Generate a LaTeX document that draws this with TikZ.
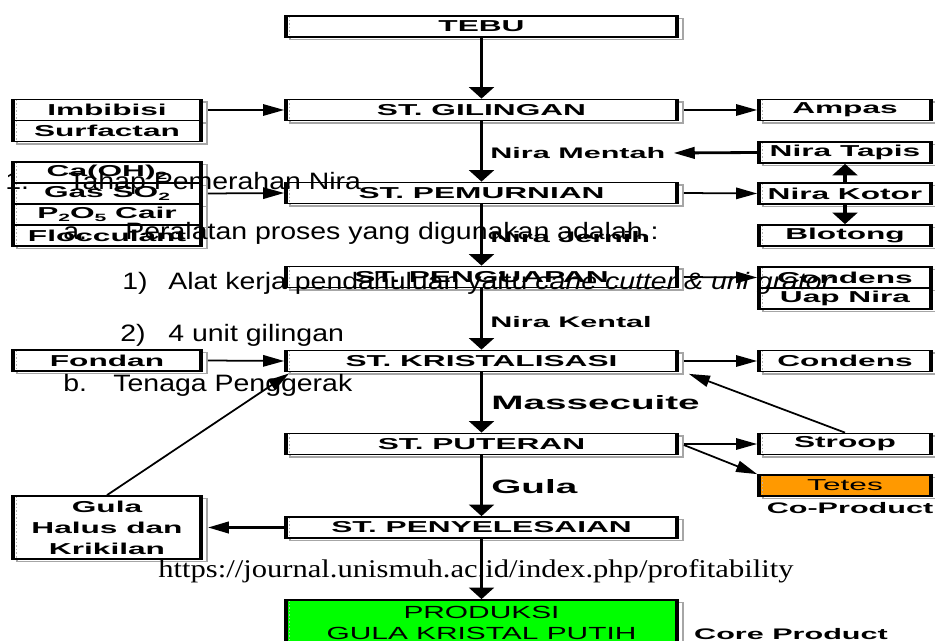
\documentclass[tikz,border=0pt]{standalone}
\usepackage{fontspec}
\usetikzlibrary{arrows.meta,shadows}
\newfontfamily\boxfont[FakeStretch=2.0]{Liberation Sans}
\newfontfamily\prodfont[FakeStretch=1.7]{Liberation Sans}
\newfontfamily\docfont[FakeStretch=1.2]{Liberation Sans}
\newfontfamily\urlfont[FakeStretch=1.2]{Liberation Serif}
\definecolor{prodgreen}{RGB}{0,255,0}
\definecolor{tetesorange}{RGB}{255,153,0}
\newcommand{\lowtxt}[1]{\raisebox{-.4ex}{\fontsize{6}{6}\selectfont #1}}

\tikzset{
  stbox/.style={draw, line width=1pt, fill=white, inner sep=0pt, minimum height=0.42cm,
    font=\boxfont\bfseries\fontsize{9}{10}\selectfont,
    general shadow={shadow xshift=2.8pt, shadow yshift=-1.4pt, draw=gray!70, line width=0.8pt, fill=none},
    path picture={
      \draw[line width=3.5pt] (path picture bounding box.north west) to (path picture bounding box.south west);
      \draw[line width=3.5pt] (path picture bounding box.north east) to (path picture bounding box.south east);
      \draw[gray!60, line width=1pt, densely dotted] ([xshift=2.6pt]path picture bounding box.north west) to ([xshift=2.6pt]path picture bounding box.south west);
    }},
  mainbox/.style={stbox, minimum width=7.86cm},
  leftbox/.style={stbox, minimum width=3.8cm},
  rightbox/.style={stbox, minimum width=3.48cm},
  lbl/.style={font=\boxfont\bfseries\fontsize{8.7}{10}\selectfont, inner sep=0pt, anchor=west},
  biglbl/.style={font=\boxfont\bfseries\fontsize{11}{13}\selectfont, inner sep=0pt, anchor=west},
  doc/.style={font=\docfont\fontsize{13.5}{16}\selectfont, inner sep=0pt, anchor=base west},
  mainarrow/.style={line width=2pt, -{Triangle[length=6.5pt, width=14pt]}},
  sidearrow/.style={line width=1pt, -{Triangle[length=12pt, width=6.5pt]}}
}

\begin{document}
\begin{tikzpicture}[x=0.02cm, y=-0.02cm]
        \fill[white] (0, 0) rectangle (935, 641);
        \clip (0, 0) rectangle (935, 641);

        %%stations
        \node[mainbox] (tebu) at (481.5, 26.5) {TEBU};
        \node[mainbox] (gil) at (481.5, 110) {ST. GILINGAN};
        \node[mainbox] (pem) at (481.5, 193) {ST. PEMURNIAN};
        \node[mainbox] (peng) at (481.5, 277) {ST. PENGUAPAN};
        \node[mainbox] (kris) at (481.5, 361) {ST. KRISTALISASI};
        \node[mainbox] (put) at (481.5, 444) {ST. PUTERAN};
        \node[mainbox] (peny) at (481.5, 527.5) {ST. PENYELESAIAN};
        \node[mainbox, fill=prodgreen, minimum height=0.9cm, align=center,
          font=\prodfont\fontsize{10}{12}\selectfont] (prod) at (481.5, 622.5) {PRODUKSI\\GULA KRISTAL PUTIH};

        %%inputs
        \node[leftbox] (imb) at (107, 110) {Imbibisi};
        \node[leftbox] (surf) at (107, 131) {Surfactan};
        \node[leftbox] (caoh) at (107, 172.5) {Ca(OH)\lowtxt{2}};
        \node[leftbox] (gas) at (107, 193.5) {Gas SO\lowtxt{2}};
        \node[leftbox] (pdua) at (107, 214.5) {P\lowtxt{2}O\lowtxt{5} Cair};
        \node[leftbox] (floc) at (107, 235.5) {Flocculant};
        \node[leftbox] (fondan) at (107, 360.5) {Fondan};
        \node[leftbox, minimum height=1.26cm, align=center,
          font=\boxfont\bfseries\fontsize{9}{12}\selectfont] (gulah) at (107, 527.5) {Gula\\Halus dan\\Krikilan};

        %%outputs
        \node[rightbox] (ampas) at (845, 110) {Ampas};
        \node[rightbox] (tapis) at (845, 152.5) {Nira Tapis};
        \node[rightbox] (kotor) at (845, 193.5) {Nira Kotor};
        \node[rightbox] (blotong) at (845, 235.5) {Blotong};
        \node[rightbox] (conda) at (845, 277.5) {Condens};
        \node[rightbox] (uap) at (845, 298.5) {Uap Nira};
        \node[rightbox] (condb) at (845, 361) {Condens};
        \node[rightbox] (stroop) at (845, 444) {Stroop};
        \node[rightbox, fill=tetesorange, font=\boxfont\fontsize{9}{10}\selectfont] (tetes) at (845, 485.5) {Tetes};

        %%flow labels
        \node[lbl] (mentah) at (490, 153) {Nira Mentah};
        \node[lbl] (jernih) at (490, 237) {Nira Jernih};
        \node[lbl] (kental) at (490, 322) {Nira Kental};
        \node[biglbl] (masse) at (491, 403) {Massecuite};
        \node[biglbl] (gula) at (491, 487) {Gula};
        \node[lbl, anchor=center] (coprod) at (850, 508) {Co-Product};
        \node[lbl, anchor=center] (coreprod) at (791, 634) {Core Product};

        %%main line
        \draw[mainarrow] (tebu) to (gil);
        \draw[mainarrow] (gil) to (pem);
        \draw[mainarrow] (pem) to (peng);
        \draw[mainarrow] (peng) to (kris);
        \draw[mainarrow] (kris) to (put);
        \draw[mainarrow] (put) to (peny);
        \draw[mainarrow] (peny) to (prod);

        %%side arrows
        \draw[sidearrow] ([shift={(5,0)}]imb.east) to (gil.west);
        \draw[sidearrow] ([shift={(5,0)}]gas.east) to (pem.west);
        \draw[sidearrow] ([shift={(5,0)}]fondan.east) to (kris.west);
        \draw[sidearrow] ([shift={(5,0)}]gil.east) to (ampas.west);
        \draw[sidearrow] ([shift={(5,0)}]pem.east) to (kotor.west);
        \draw[sidearrow] ([shift={(5,0)}]peng.east) to (conda.west);
        \draw[sidearrow] ([shift={(5,0)}]kris.east) to (condb.west);
        \draw[sidearrow] ([shift={(5,0)}]put.east) to (stroop.west);
        \draw[sidearrow] ([shift={(5,1)}]put.east) to (tetes.north west);
        \draw[sidearrow, line width=1.6pt] (tapis.west) to ([shift={(8,0)}]mentah.east);
        \draw[sidearrow, line width=1.6pt] (peny.west) to ([shift={(5,0)}]gulah.east);
        \draw[mainarrow] (kotor.north) to (tapis.south);
        \draw[mainarrow] (kotor.south) to (blotong.north);
          \draw[sidearrow] (stroop.north) to ([shift={(10,1.5)}]kris.south east);
          \draw[sidearrow] (gulah.north) to ([shift={(5,1)}]kris.south west);

        %%page text
        \node[doc] (na) at (5, 190) {1.};
        \node[doc] (ta) at (68, 190) {Tahap Pemerahan Nira};
        \node[doc] (nb) at (63, 240) {a.};
        \node[doc] (tb) at (125, 240) {Peralatan proses yang digunakan adalah :};
        \node[doc] (nc) at (122, 290) {1)};
        \node[doc] (tc) at (168, 290) {Alat kerja pendahuluan yaitu \textit{cane cutter \& uni grator}};
        \node[doc] (nd) at (120, 341) {2)};
        \node[doc] (td) at (168, 341) {4 unit gilingan};
        \node[doc] (ne) at (63, 391) {b.};
        \node[doc] (te) at (113, 391) {Tenaga Penggerak};
        \node[font=\urlfont\fontsize{14.5}{17}\selectfont, inner sep=0pt, anchor=base west] (url) at (158, 577)
          {https://journal.unismuh.ac.id/index.php/profitability};

\end{tikzpicture}
\end{document}
